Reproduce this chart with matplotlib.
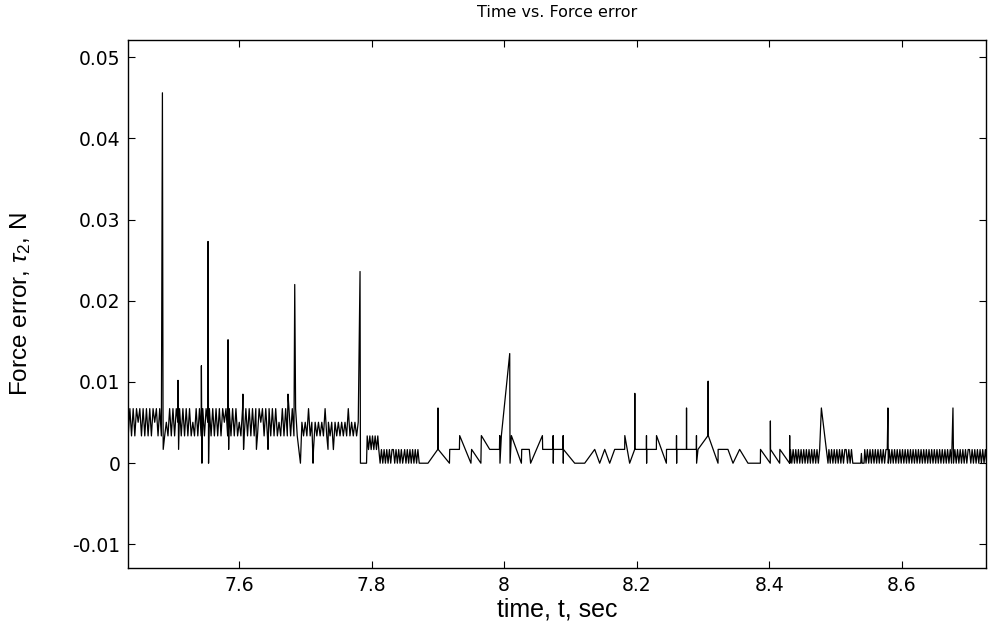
import numpy as np
import matplotlib
matplotlib.use("Agg")
import matplotlib.pyplot as plt

# quantisation step of the force-error signal (N)
Q = 0.00168

# ---- dense, uniformly sampled stretches: (start time, step, levels in units of Q)
segA_t0, segA_dt = 7.4330, 0.0025
segA_levels = [2,4,2,4,2,4,3,4,2,4,2,4,2,4,2,4,3,4,2,4,
               2,4,2,3,2,4,2,4,2,4,3,4,2,4,2,4,2,4,2,3,
               2,4,2,4,2,4,2,4,3,4,2,4,2,4,2,4,2,4,3,4,
               2,4,2,4,2,4,2,3,2,4,2,4,2,4,2,4,2,4,2,4,
               3,4,2,4,2,4,2,4,2,4,2,3,2,4,2,4,2,4,2,4,
               2,4,2]
segB_t0, segB_dt = 7.6950, 0.0025
segB_levels = [3,2,3,2,4,2,3,1,3,2,3,2,3,2,4,2,3,2,3,1,
               3,2,3,2,3,2,3,2,4,2,3,2,3,2,3]
segC1_t0, segC1_dt = 7.7935, 0.0020
segC1_levels = [2,1,2,1,2,1,2,1,2]
segC2_t0, segC2_dt = 7.8110, 0.0020
segC2_levels = [1,0,1,0,1,0,1,0,1,0,1,1,0,1,0,1,0,1,0]
segC3_t0, segC3_dt = 7.8500, 0.0020
segC3_levels = [1,0,1,0,1,0,1,0,1,0,1,0]
segE1_t0, segE1_dt = 8.4320, 0.0020
segE1_levels = [1,0,1,0,1,0,1,0,1,0,1,0,1,0,1,0,1,0,1,0,1,0,1]
segE2_t0, segE2_dt = 8.4900, 0.0020
segE2_levels = [1,0,1,0,1,0,1,0,1,0,1,0,1,1,0,1,0,1,0,0]
segE3_t0, segE3_dt = 8.5440, 0.0020
segE3_levels = [1,0,1,0,1,0,1,0,1,0,1,0,1,0,1,0,1,1]
segE4_t0, segE4_dt = 8.5810, 0.0020
segE4_levels = [1,0,1,0,1,0,1,0,1,0,1,0,1,0,1,0,1,0,1,0,
                1,0,1,0,1,0,1,0,1,0,1,0,1,0,1,0,1,0,1,0,
                1,0,1,0,1,0,1,0]
segE5_t0, segE5_dt = 8.6800, 0.0020
segE5_levels = [1,0,1,0,1,0,1,0,1,0,1,1,0,1,0,1,0,1,0,1,0,1,0,1,0,1]

# ---- individual samples (spikes, dips and the sparse middle part)
event_t = [7.4846, 7.4858, 7.5081, 7.5090, 7.5434, 7.5442, 7.5534, 7.5542,
           7.5836, 7.5845, 7.6060, 7.6070, 7.6264, 7.6439, 7.6740, 7.6842,
           7.6928, 7.7118, 7.7344, 7.7827, 7.7833, 7.7925,
           7.8852, 7.9000, 7.9003, 7.9006, 7.9176, 7.9180, 7.9326, 7.9330,
           7.9500, 7.9510, 7.9650, 7.9657, 7.9783, 7.9930, 7.9934, 7.9938,
           7.9959, 8.0085, 8.0090, 8.0110, 8.0261, 8.0266, 8.0380, 8.0400,
           8.0578, 8.0582, 8.0738, 8.0740, 8.0742, 8.0745, 8.0889, 8.0891,
           8.0893, 8.0895, 8.1065, 8.1216, 8.1367, 8.1442, 8.1518, 8.1593,
           8.1668, 8.1819, 8.1821, 8.1894, 8.1970, 8.1972, 8.1974, 8.2146,
           8.2148, 8.2150, 8.2152, 8.2297, 8.2299, 8.2448, 8.2450, 8.2599,
           8.2601, 8.2603, 8.2605, 8.2750, 8.2752, 8.2754, 8.2900, 8.2902,
           8.2904, 8.2925, 8.3076, 8.3078, 8.3080, 8.3227, 8.3229, 8.3377,
           8.3453, 8.3553, 8.3679, 8.3866, 8.3868, 8.4015, 8.4017, 8.4019,
           8.4157, 8.4160, 8.4306, 8.4308, 8.4310,
           8.4786, 8.4886, 8.5290, 8.5380, 8.5390, 8.5400, 8.5430,
           8.5790, 8.5795, 8.6771, 8.6780]
event_v = [0.0456, 0.0017, 0.0102, 0.0017, 0.0120, 0.0000, 0.0273, 0.0000,
           0.0152, 0.0017, 0.0085, 0.0017, 0.0017, 0.0017, 0.0085, 0.0220,
           0.0000, 0.0000, 0.0017, 0.0236, 0.0000, 0.0000,
           0.0000, 0.0017, 0.0068, 0.0017, 0.0000, 0.0017, 0.0017, 0.0034,
           0.0000, 0.0017, 0.0000, 0.0034, 0.0017, 0.0017, 0.0034, 0.0000,
           0.0034, 0.0135, 0.0000, 0.0034, 0.0000, 0.0017, 0.0017, 0.0000,
           0.0034, 0.0017, 0.0017, 0.0034, 0.0000, 0.0017, 0.0017, 0.0034,
           0.0000, 0.0017, 0.0000, 0.0000, 0.0017, 0.0000, 0.0017, 0.0000,
           0.0017, 0.0017, 0.0034, 0.0000, 0.0017, 0.0086, 0.0017, 0.0017,
           0.0034, 0.0000, 0.0017, 0.0017, 0.0034, 0.0000, 0.0017, 0.0017,
           0.0034, 0.0000, 0.0017, 0.0017, 0.0068, 0.0017, 0.0017, 0.0034,
           0.0000, 0.0017, 0.0034, 0.0101, 0.0034, 0.0000, 0.0017, 0.0017,
           0.0000, 0.0017, 0.0000, 0.0000, 0.0017, 0.0000, 0.0052, 0.0017,
           0.0000, 0.0017, 0.0000, 0.0034, 0.0000,
           0.0068, 0.0000, 0.0000, 0.0000, 0.0012, 0.0000, 0.0000,
           0.0068, 0.0000, 0.0068, 0.0000]

x_ticks = [7.6, 7.8, 8.0, 8.2, 8.4, 8.6]
x_ticklabels = ["7.6", "7.8", "8", "8.2", "8.4", "8.6"]
y_ticks = [-0.01, 0, 0.01, 0.02, 0.03, 0.04, 0.05]
y_ticklabels = ["-0.01", "0", "0.01", "0.02", "0.03", "0.04", "0.05"]

segments = [(segA_t0, segA_dt, segA_levels), (segB_t0, segB_dt, segB_levels),
            (segC1_t0, segC1_dt, segC1_levels), (segC2_t0, segC2_dt, segC2_levels),
            (segC3_t0, segC3_dt, segC3_levels), (segE1_t0, segE1_dt, segE1_levels),
            (segE2_t0, segE2_dt, segE2_levels), (segE3_t0, segE3_dt, segE3_levels),
            (segE4_t0, segE4_dt, segE4_levels), (segE5_t0, segE5_dt, segE5_levels)]

ts, vs = [], []
for t0, dt, lev in segments:
    lev = np.asarray(lev, dtype=float)
    ts.append(t0 + dt * np.arange(len(lev)))
    vs.append(lev * Q)
ts.append(np.asarray(event_t))
vs.append(np.asarray(event_v))
t = np.concatenate(ts)
v = np.concatenate(vs)
order = np.argsort(t, kind="stable")
t, v = t[order], v[order]

plt.rcParams['font.family'] = ['DejaVu Sans']
plt.rcParams['mathtext.fontset'] = 'custom'
plt.rcParams['mathtext.rm'] = 'Liberation Sans'
plt.rcParams['mathtext.it'] = 'Liberation Sans:italic'

fig = plt.figure(figsize=(9.9, 6.23), dpi=100)
ax = fig.add_axes([0.1293, 0.0883, 0.8667, 0.8475])
ax.plot(t, v, color='black', lw=0.9)

ax.set_xlim(7.4327, 8.727)
ax.set_ylim(-0.0129, 0.0521)
ax.set_xticks(x_ticks)
ax.set_xticklabels(x_ticklabels)
ax.set_yticks(y_ticks)
ax.set_yticklabels(y_ticklabels)
ax.tick_params(direction='in', top=True, right=True, length=5, width=0.8,
               labelsize=13.5, pad=5.5)
for s in ax.spines.values():
    s.set_linewidth(1.0)

label_font = ['Liberation Sans', 'DejaVu Sans']
ax.set_title('Time vs. Force error', fontsize=11.5, pad=16.5)
ax.set_xlabel('time, t, sec', fontsize=18, family=label_font, labelpad=2)
ax.set_ylabel(r'Force error, $\tau_2$, N', fontsize=17.5, family=label_font)
ax.yaxis.set_label_coords(-0.1107, 0.5)

fig.savefig('out.png', dpi=100)
